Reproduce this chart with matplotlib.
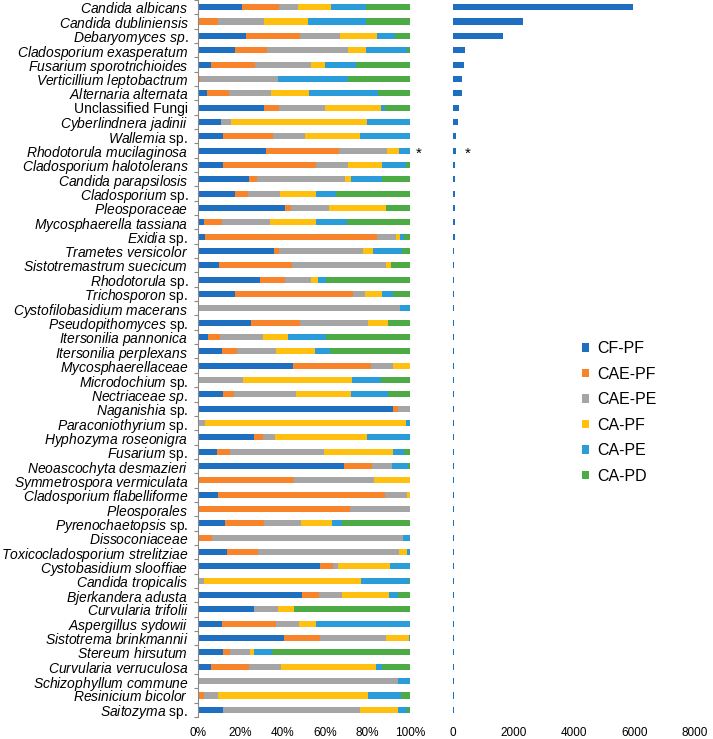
import matplotlib
matplotlib.use("Agg")
import matplotlib.pyplot as plt
import numpy as np

plt.rcParams['font.family'] = ['Liberation Sans', 'DejaVu Sans']
plt.rcParams['mathtext.fontset'] = 'custom'
plt.rcParams['mathtext.it'] = 'Liberation Sans:italic'
plt.rcParams['mathtext.rm'] = 'Liberation Sans'

# taxa, top to bottom
taxa = [
    "Candida albicans", "Candida dubliniensis", "Debaryomyces sp.",
    "Cladosporium exasperatum", "Fusarium sporotrichioides", "Verticillium leptobactrum",
    "Alternaria alternata", "Unclassified Fungi", "Cyberlindnera jadinii",
    "Wallemia sp.", "Rhodotorula mucilaginosa", "Cladosporium halotolerans",
    "Candida parapsilosis", "Cladosporium sp.", "Pleosporaceae",
    "Mycosphaerella tassiana", "Exidia sp.", "Trametes versicolor",
    "Sistotremastrum suecicum", "Rhodotorula sp.", "Trichosporon sp.",
    "Cystofilobasidium macerans", "Pseudopithomyces sp.", "Itersonilia pannonica",
    "Itersonilia perplexans", "Mycosphaerellaceae", "Microdochium sp.",
    "Nectriaceae sp.", "Naganishia sp.", "Paraconiothyrium sp.",
    "Hyphozyma roseonigra", "Fusarium sp.", "Neoascochyta desmazieri",
    "Symmetrospora vermiculata", "Cladosporium flabelliforme", "Pleosporales",
    "Pyrenochaetopsis sp.", "Dissoconiaceae", "Toxicocladosporium strelitziae",
    "Cystobasidium slooffiae", "Candida tropicalis", "Bjerkandera adusta",
    "Curvularia trifolii", "Aspergillus sydowii", "Sistotrema brinkmannii",
    "Stereum hirsutum", "Curvularia verruculosa", "Schizophyllum commune",
    "Resinicium bicolor", "Saitozyma sp.",
]
# names written fully upright, and names whose " sp." stays italic
upright_names = ["Unclassified Fungi"]
italic_sp = ["Debaryomyces sp.", "Nectriaceae sp."]

groups = ["CF-PF", "CAE-PF", "CAE-PE", "CA-PF", "CA-PE", "CA-PD"]
colors = ['#1F6FC1', '#F7832A', '#A5A5A5', '#FFC010', '#2A9CD9', '#4CAB45']

# relative abundance (%) per group
cf_pf = [20.8, 0, 22.5, 17.3, 6.0, 0, 4.4, 31.1, 10.7, 11.8, 31.9, 11.8,
         23.9, 17.6, 41.0, 2.7, 3.3, 35.8, 9.9, 29.2, 17.3, 0, 25.0, 4.7,
         11.2, 45.0, 0, 11.8, 91.8, 0, 26.6, 9.0, 69.0, 0, 9.6, 0,
         12.7, 0, 13.7, 57.5, 0, 48.9, 26.4, 11.3, 40.6, 11.6, 6.0, 0,
         0, 11.9]
cae_pf = [17.3, 9.6, 25.6, 15.1, 21.0, 0.9, 10.1, 7.3, 0, 23.7, 34.6, 43.9,
          3.9, 6.0, 2.7, 8.5, 81.0, 2.3, 34.4, 11.8, 56.0, 0, 23.1, 5.7,
          7.4, 36.6, 0, 5.2, 2.5, 0, 4.1, 5.9, 13.2, 45.1, 78.6, 71.7,
          18.6, 6.6, 14.4, 6.2, 0, 8.2, 0, 25.5, 16.9, 3.3, 18.2, 0,
          2.8, 0]
cae_pe = [9.0, 21.5, 18.9, 38.4, 26.1, 36.8, 19.8, 21.7, 4.7, 15.0, 22.7, 14.9,
          41.4, 15.1, 18.3, 22.8, 9.1, 39.9, 44.2, 12.3, 5.3, 95.1, 32.1, 20.1,
          18.3, 10.5, 21.2, 29.4, 5.7, 3.3, 5.8, 44.5, 9.3, 38.1, 10.5, 28.3,
          17.3, 89.9, 66.6, 2.5, 3.0, 11.0, 11.2, 10.8, 31.2, 9.6, 15.0, 94.2,
          6.6, 64.5]
ca_pf = [15.6, 20.9, 17.3, 8.6, 6.8, 0, 18.1, 26.1, 64.3, 25.9, 5.8, 16.0,
         3.0, 17.0, 26.7, 21.8, 1.7, 4.4, 2.4, 3.1, 8.0, 0, 9.3, 11.8,
         18.1, 7.9, 51.4, 25.8, 0, 94.7, 43.2, 32.6, 0, 16.8, 1.3, 0,
         14.8, 0, 4.0, 24.4, 73.9, 22.0, 7.7, 7.9, 10.7, 1.9, 44.9, 0,
         70.9, 17.8]
ca_pe = [16.5, 27.2, 8.8, 19.2, 14.6, 33.2, 32.7, 2.0, 20.3, 23.6, 5.0, 11.5,
         14.7, 9.4, 0, 14.3, 2.1, 13.7, 0, 4.0, 5.4, 4.9, 0, 17.9,
         7.4, 0, 13.7, 17.6, 0, 2.0, 20.3, 5.3, 7.7, 0, 0, 0,
         4.4, 3.5, 1.3, 9.4, 22.8, 4.4, 0, 44.5, 0.6, 8.7, 2.8, 5.8,
         15.5, 4.5]
ca_pd = [20.9, 20.8, 6.9, 1.4, 25.5, 29.1, 14.9, 11.8, 0, 0, 0, 1.9,
         13.1, 34.9, 11.3, 29.9, 2.8, 3.9, 9.1, 39.6, 8.0, 0, 10.5, 39.8,
         37.6, 0, 13.7, 10.2, 0, 0, 0, 2.7, 0.8, 0, 0, 0,
         32.2, 0, 0, 0, 0.3, 5.5, 54.7, 0, 0, 64.9, 13.1, 0,
         4.2, 1.3]

# total abundance per taxon
totals = [5950, 2300, 1650, 390, 345, 290, 290, 180, 156, 90, 85, 62,
          55, 48, 45, 42, 40, 38, 36, 34, 32, 30, 28, 27,
          26, 25, 24, 23, 22, 21, 20, 19, 18, 17, 16, 16,
          15, 15, 14, 14, 13, 13, 12, 12, 11, 11, 10, 10,
          9, 9]

starred = "Rhodotorula mucilaginosa"


def label_for(name):
    if name in upright_names:
        return name
    if name.endswith(" sp.") and name not in italic_sp:
        return r"$\mathit{" + name[:-4] + "}$ sp."
    return r"$\mathit{" + name.replace(" ", r"\ ") + "}$"


W, H = 713, 739
fig = plt.figure(figsize=(W / 100, H / 100), dpi=100)
ax = fig.add_axes([198 / W, 1 - 717 / H, 212 / W, 717 / H])
ax2 = fig.add_axes([453.3 / W, 1 - 717 / H, 241.7 / W, 717 / H])

series = np.array([cf_pf, cae_pf, cae_pe, ca_pf, ca_pe, ca_pd])
pct = series / series.sum(axis=0) * 100
y = np.arange(len(taxa))

left = np.zeros(len(taxa))
for vals, g, c in zip(pct, groups, colors):
    ax.barh(y, vals, left=left, height=0.42, color=c, label=g)
    left += vals

ax.set_ylim(len(taxa) - 0.5, -0.5)
ax.set_xlim(0, 100)
ax.set_xticks([0, 20, 40, 60, 80, 100])
ax.set_xticklabels([f"{v}%" for v in [0, 20, 40, 60, 80, 100]])
ax.set_yticks(y)
ax.set_yticklabels([label_for(t) for t in taxa], fontsize=10)
ax.set_yticks(np.arange(len(taxa) + 1) - 0.5, minor=True)
ax.tick_params(axis='y', which='major', length=0, pad=7)
ax.tick_params(axis='y', which='minor', length=3, color='#888888', width=0.8)
ax.tick_params(axis='x', length=0, pad=7.5, labelsize=8.5)
for s in ['top', 'right', 'bottom']:
    ax.spines[s].set_visible(False)
ax.spines['left'].set_color('#888888')
ax.spines['left'].set_linewidth(0.8)

ax2.barh(y, totals, height=0.42, color=colors[0])
ax2.set_ylim(len(taxa) - 0.5, -0.5)
ax2.set_xlim(0, 8000)
ax2.set_xticks([0, 2000, 4000, 6000, 8000])
ax2.set_yticks([])
ax2.tick_params(axis='x', length=0, pad=7.5, labelsize=8.5)
for s in ax2.spines.values():
    s.set_visible(False)

i = taxa.index(starred)
ax.annotate("*", xy=(100, i), xytext=(6, -2), textcoords='offset points',
            ha='center', va='center', fontsize=11)
ax2.annotate("*", xy=(totals[i], i), xytext=(8.5, -2), textcoords='offset points',
             ha='center', va='center', fontsize=11)

handles, labels = ax.get_legend_handles_labels()
fig.legend(handles, labels, loc='upper left', bbox_to_anchor=(581.5 / W, 1 - 341 / H),
           frameon=False, fontsize=11.5, handlelength=0.45, handleheight=0.45,
           handletextpad=0.55, labelspacing=0.66, borderpad=0, borderaxespad=0)

fig.savefig("out.png", dpi=100)
